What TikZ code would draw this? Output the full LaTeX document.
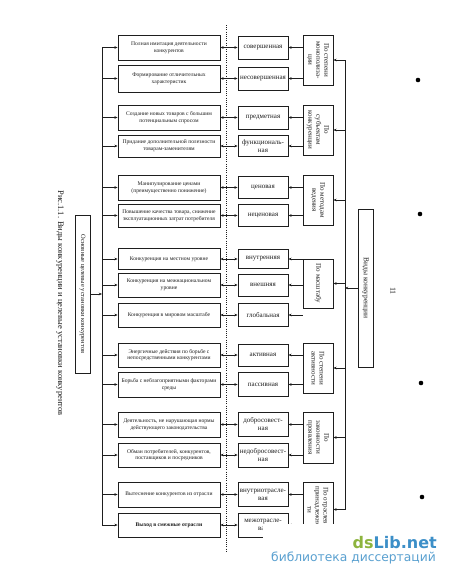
\documentclass[tikz,border=0pt]{standalone}
\usepackage{fontspec}
\setmainfont{Liberation Serif}
\newfontfamily\wmfont{DejaVu Sans}
\usetikzlibrary{arrows.meta,calc}
\definecolor{ink}{HTML}{1E1E1E}
\definecolor{wmgreen}{HTML}{8DB43E}
\definecolor{wmblue}{HTML}{3C8FC8}
\begin{document}
\begin{tikzpicture}[x=1pt,y=-1pt,
  ln/.style={draw=ink,line width=0.75pt},
  arr/.style={ln,-{Stealth[length=3.2pt,width=2.6pt]}},
  darr/.style={ln,{Stealth[length=3.2pt,width=2.6pt]}-{Stealth[length=3.2pt,width=2.6pt]}},
  lbox/.style={draw=ink,line width=0.8pt,minimum width=102pt,inner sep=0pt,align=center,
    font=\fontsize{5.6}{6.7}\selectfont,text=ink},
  mbox/.style={draw=ink,line width=0.8pt,minimum width=50pt,inner sep=0pt,align=center,
    font=\fontsize{7}{8}\selectfont,text=ink},
  rbox/.style={draw=ink,line width=0.8pt,rotate=-90,minimum height=30pt,inner sep=0pt,align=center,
    font=\fontsize{7}{8}\selectfont,text=ink},
  vbox/.style={draw=ink,line width=0.8pt,rotate=-90,minimum height=15pt,minimum width=158pt,inner sep=0pt,
    text=ink},
]
\fill[white] (0,0) rectangle (450,579);
\useasboundingbox (0,0) rectangle (450,579);

% caption
\node[rotate=-90,font=\fontsize{8.5}{10}\selectfont,text=ink] (cap) at (60,303)
  {Рис.1.1. Виды конкуренции и целевые установки конкурентов};

% goal box
\node[vbox,font=\fontsize{6.5}{8}\selectfont] (gb) at (82.5,294) {Основные целевые установки конкурентов};

% left boxes
\node[lbox,minimum height=25pt] (l1) at (169,47.5) {Полная имитация деятельности\\конкурентов};
\node[lbox,minimum height=27pt] (l2) at (169,78.5) {Формирование отличительных\\характеристик};
\node[lbox,minimum height=25pt] (l3) at (169,117.5) {Создание новых товаров с большим\\потенциальным спросом};
\node[lbox,minimum height=22pt] (l4) at (169,146) {Придание дополнительной полезности\\товарам-заменителям};
\node[lbox,minimum height=25pt] (l5) at (169,187.5) {Манипулирование ценами\\(преимущественно понижение)};
\node[lbox,minimum height=23pt] (l6) at (169,215.5) {Повышение качества товара, снижение\\эксплуатационных затрат потребителя};
\node[lbox,minimum height=21pt] (l7) at (169,259) {Конкуренция на местном уровне};
\node[lbox,minimum height=24pt] (l8) at (169,285) {Конкуренция на межнациональном\\уровне};
\node[lbox,minimum height=24pt] (l9) at (169,315) {Конкуренция в мировом масштабе};
\node[lbox,minimum height=24pt] (l10) at (169,355) {Энергичные действия по борьбе с\\непосредственными конкурентами};
\node[lbox,minimum height=25pt] (l11) at (169,384.5) {Борьба с неблагоприятными факторами\\среды};
\node[lbox,minimum height=25pt] (l12) at (169,424.5) {Деятельность, не нарушающая нормы\\действующего законодательства};
\node[lbox,minimum height=24pt] (l13) at (169,455) {Обман потребителей, конкурентов,\\поставщиков и посредников};
\node[lbox,minimum height=25pt] (l14) at (169,494.5) {Вытеснение конкурентов из отрасли};
\node[lbox,minimum height=24pt] (l15) at (169,525) {\textbf{Выход в смежные отрасли}};

% middle boxes
\node[mbox,minimum height=23pt] (m1) at (263,47.5) {совершенная};
\node[mbox,minimum height=23pt] (m2) at (263,78.5) {несовершенная};
\node[mbox,minimum height=23pt] (m3) at (263,117.5) {предметная};
\node[mbox,minimum height=21pt] (m4) at (263,146) {функциональ-\\ная};
\node[mbox,minimum height=22pt] (m5) at (263,187.5) {ценовая};
\node[mbox,minimum height=22pt] (m6) at (263,215.5) {неценовая};
\node[mbox,minimum height=19pt] (m7) at (263,259) {внутренняя};
\node[mbox,minimum height=22pt] (m8) at (263,285) {внешняя};
\node[mbox,minimum height=23pt] (m9) at (263,315) {глобальная};
\node[mbox,minimum height=22pt] (m10) at (263,355) {активная};
\node[mbox,minimum height=24pt] (m11) at (263,384.5) {пассивная};
\node[mbox,minimum height=24pt] (m12) at (263,424.5) {добросовест-\\ная};
\node[mbox,minimum height=24pt] (m13) at (263,455) {недобросовест-\\ная};
\node[mbox,minimum height=24pt] (m14) at (263,494.5) {внутриотрасле-\\вая};
\node[mbox,minimum height=24pt] (m15) at (263,525) {межотрасле-\\вая};

% right boxes
\node[rbox,minimum width=50pt] (r1) at (318,60) {По степени\\монополиза-\\ции};
\node[rbox,minimum width=50pt] (r2) at (318,130) {По\\субъектам\\конкуренции};
\node[rbox,minimum width=50pt] (r3) at (318,200) {По методам\\ведения};
\node[rbox,minimum width=49pt] (r4) at (318,283.5) {По масштабу};
\node[rbox,minimum width=50pt] (r5) at (318,368) {По степени\\активности};
\node[rbox,minimum width=51pt] (r6) at (318,437.5) {По\\законности\\проявления};
\node[rbox,minimum width=55pt] (r7) at (318,509.5) {По отраслевой\\принадлежнос-\\ти};

% types box
\node[vbox,font=\fontsize{7.5}{9}\selectfont] (vk) at (365.5,288) {Виды конкуренции};

% page number
\node[rotate=-90,font=\fontsize{8}{9}\selectfont,text=ink] (pn) at (393,291) {11};

% dotted divider
\coordinate (dt) at (226,25);
\coordinate (db) at (226,552);
\draw[ink,line width=0.9pt,dash pattern=on 1pt off 1.2pt] (dt) -- (db);

% left trunk
\coordinate (ll) at (102,0);
\draw[ln] (ll |- l1.west) -- (ll |- l15.west);
\foreach \i in {1,...,15} {
  \draw[arr] (ll |- l\i.west) -- (l\i.west);
  \draw[darr] (l\i.east) -- (m\i.west);
}
\draw[arr] (gb.north) -- (ll |- gb.north);

% right trunk
\coordinate (rl) at (345,0);
\draw[ln] (rl |- r1.north) -- (rl |- r7.north);
\foreach \i in {1,...,7} {
  \draw[arr] (rl |- r\i.north) -- (r\i.north);
}
\draw[arr] (vk.south) -- (rl |- vk.south);

% right boxes to middle boxes
\foreach \r/\m in {1/1,1/2,2/3,2/4,3/5,3/6,4/7,4/8,4/9,5/10,5/11,6/12,6/13,7/14,7/15} {
  \draw[arr] (r\r.south |- m\m.east) -- (m\m.east);
}

% bullets
\fill[black] (418,80) circle (2.3);
\fill[black] (420,214) circle (2.3);
\fill[black] (421,383) circle (2.3);
\fill[black] (422,497) circle (2.3);

% watermark
\fill[white] (263,524) rectangle (450,579);
\node[anchor=base east,inner sep=0pt,font=\wmfont\bfseries\fontsize{16}{18}\selectfont] (wm1) at (437,548)
  {\textcolor{wmgreen}{ds}\textcolor{wmblue}{Lib.net}};
\node[anchor=base east,inner sep=0pt,font=\wmfont\fontsize{12.3}{14}\selectfont,text=wmblue!85] (wm2) at (436,561)
  {библиотека диссертаций};
\end{tikzpicture}
\end{document}
